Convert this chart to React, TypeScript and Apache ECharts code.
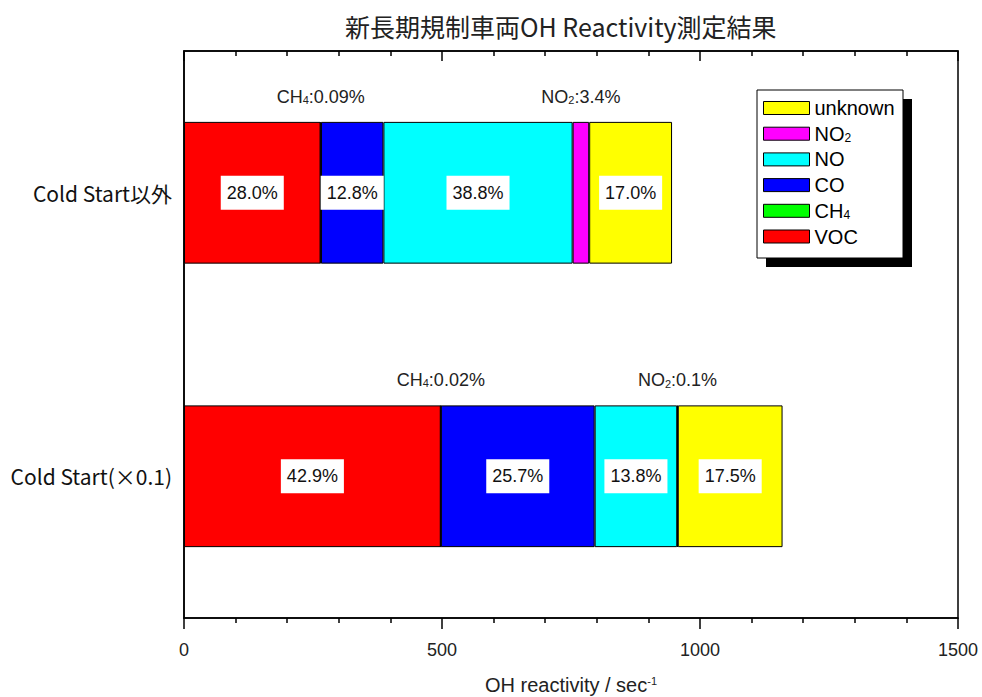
import React, { useEffect, useRef } from "react";
import * as echarts from "echarts";

const categories = ["Cold Start(×0.1)", "Cold Start以外"];
const vocValues = [497.6, 264.6];
const ch4Values = [0.23, 0.85];
const coValues = [298, 121];
const noValues = [160, 366.7];
const no2Values = [1.16, 32.1];
const unknownValues = [203, 160.6];

const vocPct = ["42.9%", "28.0%"];
const ch4Pct = ["0.02%", "0.09%"];
const coPct = ["25.7%", "12.8%"];
const noPct = ["13.8%", "38.8%"];
const no2Pct = ["0.1%", "3.4%"];
const unknownPct = ["17.5%", "17.0%"];

const legendOrder = ["unknown", "NO2", "NO", "CO", "CH4", "VOC"];
const xTicks = { min: 0, max: 1500, interval: 500 };

const SANS = "'Liberation Sans', 'Noto Sans CJK JP', sans-serif";
const JP = "'Noto Sans CJK JP', sans-serif";

export default function App() {
  const ref = useRef<HTMLDivElement>(null);
  useEffect(() => {
    if (!ref.current) return;
    document.body.style.margin = "0";
    const chart = echarts.init(ref.current, null, { renderer: "svg", width: 982, height: 697 });

    const insideLabel = (arr: string[]) => ({
      show: true,
      position: "inside",
      formatter: (p: any) => arr[p.dataIndex],
      backgroundColor: "#fff",
      padding: [8, 6],
      color: "#111",
      fontSize: 18,
      fontFamily: SANS,
    });

    const subRich = {
      m: { fontSize: 18, fontFamily: SANS, color: "#222", lineHeight: 20, verticalAlign: "bottom" },
      s: { fontSize: 11, fontFamily: SANS, color: "#222", lineHeight: 4, verticalAlign: "bottom" },
    };

    const topLabel = (name: string, sub: string, rest: string[]) => ({
      show: true,
      position: "top",
      distance: 16,
      formatter: (p: any) => `{m|${name}}{s|${sub}}{m|:${rest[p.dataIndex]}}`,
      rich: subRich,
    });

    const base = {
      type: "bar",
      stack: "total",
      barWidth: "50%",
      itemStyle: { borderColor: "#000", borderWidth: 1 },
    };

    const LEG_FONT = "'Liberation Sans', sans-serif";

    const option: any = {
      animation: false,
      backgroundColor: "#fff",
      title: {
        text: "新長期規制車両OH Reactivity測定結果",
        left: 340,
        top: 8,
        textStyle: { fontSize: 25, fontWeight: "normal", color: "#222", fontFamily: JP },
      },
      grid: {
        left: 184,
        right: 24,
        top: 51,
        bottom: 79,
        show: true,
        borderColor: "#000",
        borderWidth: 1.5,
        backgroundColor: "transparent",
        outerBoundsMode: "none",
        containLabel: false,
      },
      legend: {
        data: legendOrder,
        orient: "vertical",
        left: 763,
        top: 98,
        padding: 0,
        itemWidth: 46,
        itemHeight: 13,
        itemGap: 5.7,
        icon: "rect",
        z: 10,
        itemStyle: { borderColor: "#000", borderWidth: 1 },
        formatter: (name: string) => {
          if (name === "NO2") return "{m|NO}{s|2}";
          if (name === "CH4") return "{m|CH}{s|4}";
          return `{m|${name}}`;
        },
        textStyle: {
          fontSize: 20,
          color: "#000",
          lineHeight: 20,
          fontFamily: LEG_FONT,
          rich: {
            m: { fontSize: 20, lineHeight: 20, color: "#000", fontFamily: LEG_FONT, verticalAlign: "bottom" },
            s: { fontSize: 12, lineHeight: 4, color: "#000", fontFamily: LEG_FONT, verticalAlign: "bottom" },
          },
        },
      },
      graphic: [
        { type: "rect", z: 1, shape: { x: 766, y: 99, width: 146, height: 168 }, style: { fill: "#000" } },
        { type: "rect", z: 2, shape: { x: 757, y: 90, width: 146, height: 168 }, style: { fill: "#fff", stroke: "#000", lineWidth: 1 } },
      ],
      xAxis: [
        {
          type: "value",
          position: "bottom",
          min: xTicks.min,
          max: xTicks.max,
          interval: xTicks.interval,
          name: "{m|OH reactivity / sec}{s|-1}",
          nameLocation: "middle",
          nameGap: 57,
          nameTextStyle: {
            rich: {
              m: { fontSize: 20, fontFamily: SANS, color: "#222", lineHeight: 20, verticalAlign: "top" },
              s: { fontSize: 11, fontFamily: SANS, color: "#222", lineHeight: 4, verticalAlign: "top" },
            },
          },
          axisLine: { show: true, lineStyle: { color: "#000", width: 1.5 } },
          axisTick: { show: true, length: 11, lineStyle: { color: "#000", width: 1.5 } },
          minorTick: { show: true, splitNumber: 5, length: 5, lineStyle: { color: "#000", width: 1.5 } },
          splitLine: { show: false },
          axisLabel: {
            fontSize: 18,
            color: "#222",
            fontFamily: SANS,
            margin: 23,
            formatter: (v: number) => String(v),
          },
        },
        {
          type: "value",
          position: "top",
          min: xTicks.min,
          max: xTicks.max,
          interval: xTicks.interval,
          axisLine: { show: true, lineStyle: { color: "#000", width: 1.5 } },
          axisTick: { show: true, inside: true, length: 10, lineStyle: { color: "#000", width: 1.5 } },
          minorTick: { show: true, splitNumber: 5, length: 5, lineStyle: { color: "#000", width: 1.5 } },
          splitLine: { show: false },
          axisLabel: { show: false },
        },
      ],
      yAxis: {
        type: "category",
        data: categories,
        axisLine: { show: true, lineStyle: { color: "#000", width: 1.5 } },
        axisTick: { show: false },
        axisLabel: { fontSize: 21, color: "#111", fontFamily: JP, margin: 12 },
      },
      series: [
        { ...base, name: "VOC", data: vocValues, itemStyle: { ...base.itemStyle, color: "#ff0000" }, label: insideLabel(vocPct) },
        { ...base, name: "CH4", data: ch4Values, itemStyle: { ...base.itemStyle, color: "#00ff00" }, label: topLabel("CH", "4", ch4Pct) },
        { ...base, name: "CO", data: coValues, itemStyle: { ...base.itemStyle, color: "#0000ff" }, label: insideLabel(coPct) },
        { ...base, name: "NO", data: noValues, itemStyle: { ...base.itemStyle, color: "#00ffff" }, label: insideLabel(noPct) },
        { ...base, name: "NO2", data: no2Values, itemStyle: { ...base.itemStyle, color: "#ff00ff" }, label: topLabel("NO", "2", no2Pct) },
        { ...base, name: "unknown", data: unknownValues, itemStyle: { ...base.itemStyle, color: "#ffff00" }, label: insideLabel(unknownPct) },
      ],
    };
    chart.setOption(option);
    return () => chart.dispose();
  }, []);
  return <div ref={ref} style={{ width: 982, height: 697 }} />;
}
